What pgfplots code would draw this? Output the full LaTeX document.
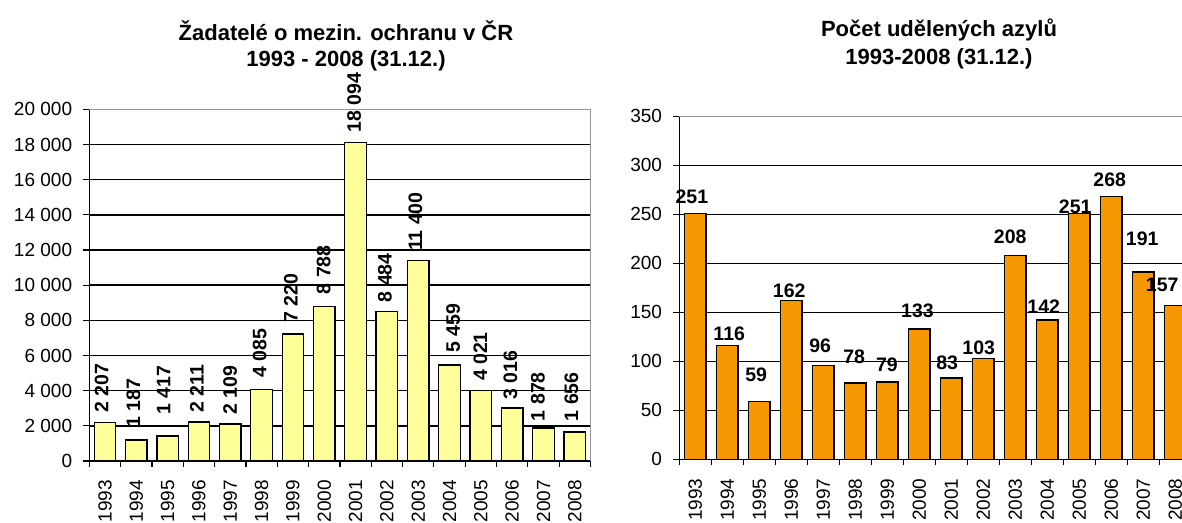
\documentclass[border=0pt]{standalone}
\usepackage{pgfplots}
\pgfplotsset{compat=1.18}
\usepackage{pgfplotstable}
\usepackage{fontspec}
\setmainfont{Liberation Sans}
\definecolor{barY}{RGB}{255,255,153}
\definecolor{barO}{RGB}{245,152,0}
\definecolor{bordergray}{RGB}{150,150,150}

\pgfplotstableread{
x y dx dy
0 2207 -3.3 9
1 1187 -3 12
2 1417 -4 21
3 2211 -2 9
4 2109 0 9
5 4085 -2 11
6 7220 -2 11
7 8788 -0.6 11.6
8 18094 -1.3 10
9 8484 -2 9
10 11400 -2.8 9
11 5459 3.6 11.8
12 4021 -0.4 8.7
13 3016 -1.7 8
14 1878 -5.7 6.3
15 1656 -3.5 10
}\leftdata

\pgfplotstableread{
x y dx dy
0 251 -3.3 16.6
1 116 2 12.3
2 59 -3 26.5
3 162 -2 10
4 96 -3 19
5 78 -1 25.6
6 79 -0.3 17
7 133 -1.7 18
8 83 -4 14.7
9 103 -4.5 10.7
10 208 -5 18.8
11 142 -3.5 13.3
12 251 -4 6.6
13 268 -1.5 16.7
14 191 -1 33
15 157 -13 20.4
}\rightdata

\pgfplotsset{
  mychart/.style={
    scale only axis,
    anchor=south west,
    axis x line*=bottom,
    axis y line*=left,
    axis line style={black, line width=1.4pt},
    xmin=-0.5, xmax=15.5,
    enlargelimits=false,
    scaled y ticks=false,
    xtick={-0.5,0.5,...,15.5},
    x tick label as interval,
    xticklabels={1993,1994,1995,1996,1997,1998,1999,2000,2001,2002,2003,2004,2005,2006,2007,2008},
    tick align=outside,
    major tick length=6pt,
    tick style={black, line width=1.2pt},
    ymajorgrids,
    grid style={black, line width=1.4pt},
    tick label style={font=\fontsize{19}{22}\selectfont, black},
    xticklabel style={rotate=90, anchor=east, inner sep=0pt},
    yticklabel style={anchor=east, inner sep=0pt, xshift=-11pt},
    xticklabel shift=13pt,
    clip=false,
    ybar, bar width=21.5pt, bar shift=0pt,
  }
}

\begin{document}
\begin{tikzpicture}
% left chart
\begin{axis}[mychart,
  at={(89.3pt,61pt)},
  width=501.2pt, height=351.7pt,
  ymin=0, ymax=20000,
  ytick={0,2000,4000,6000,8000,10000,12000,14000,16000,18000,20000},
  yticklabels={0,2 000,4 000,6 000,8 000,10 000,12 000,14 000,16 000,18 000,20 000},
]
\addplot[fill=barY, draw=black, line width=1.3pt,
  point meta=y,
  visualization depends on={\thisrow{dx} \as \mydx},
  visualization depends on={\thisrow{dy} \as \mydy},
  nodes near coords={\pgfmathprintnumber[assume math mode=true,1000 sep={\ },fixed,precision=0]{\pgfplotspointmeta}},
  every node near coord/.append style={font=\bfseries\fontsize{19.5}{22}\selectfont, black,
     inner sep=0pt, xshift=\mydx pt, yshift=\mydy pt, rotate=90, anchor=west},
] table[x=x, y=y] {\leftdata};
\draw[bordergray, line width=1.4pt] (rel axis cs:0,1) -- (rel axis cs:1,1) -- (rel axis cs:1,0);
\end{axis}
% right chart
\begin{axis}[mychart,
  at={(679.2pt,62.7pt)},
  width=512pt, height=343pt,
  ymin=0, ymax=350,
  ytick={0,50,100,150,200,250,300,350},
  yticklabels={0,50,100,150,200,250,300,350},
]
\addplot[fill=barO, draw=black, line width=1.3pt,
  point meta=y,
  visualization depends on={\thisrow{dx} \as \mydx},
  visualization depends on={\thisrow{dy} \as \mydy},
  nodes near coords={\pgfmathprintnumber[assume math mode=true,fixed,precision=0]{\pgfplotspointmeta}},
  every node near coord/.append style={font=\bfseries\fontsize{19.5}{22}\selectfont, black,
     inner sep=0pt, xshift=\mydx pt, yshift=\mydy pt, anchor=center},
] table[x=x, y=y] {\rightdata};
\draw[bordergray, line width=1.4pt] (rel axis cs:0,1) -- (rel axis cs:1,1) -- (rel axis cs:1,0);
\end{axis}
% titles
\node[font=\bfseries\fontsize{22}{26}\selectfont, align=center] at (346pt,491pt) {Žadatelé o mezin. ochranu v ČR};
\node[font=\bfseries\fontsize{22}{26}\selectfont, align=center] at (346pt,461pt) {1993 - 2008 (31.12.)};
\node[font=\bfseries\fontsize{22}{26}\selectfont, align=center] at (939pt,492pt) {Počet udělených azylů};
\node[font=\bfseries\fontsize{22}{26}\selectfont, align=center] at (939pt,463pt) {1993-2008 (31.12.)};
\pgfresetboundingbox
\useasboundingbox (0,0) rectangle (1182pt,522pt);
\end{tikzpicture}
\end{document}
